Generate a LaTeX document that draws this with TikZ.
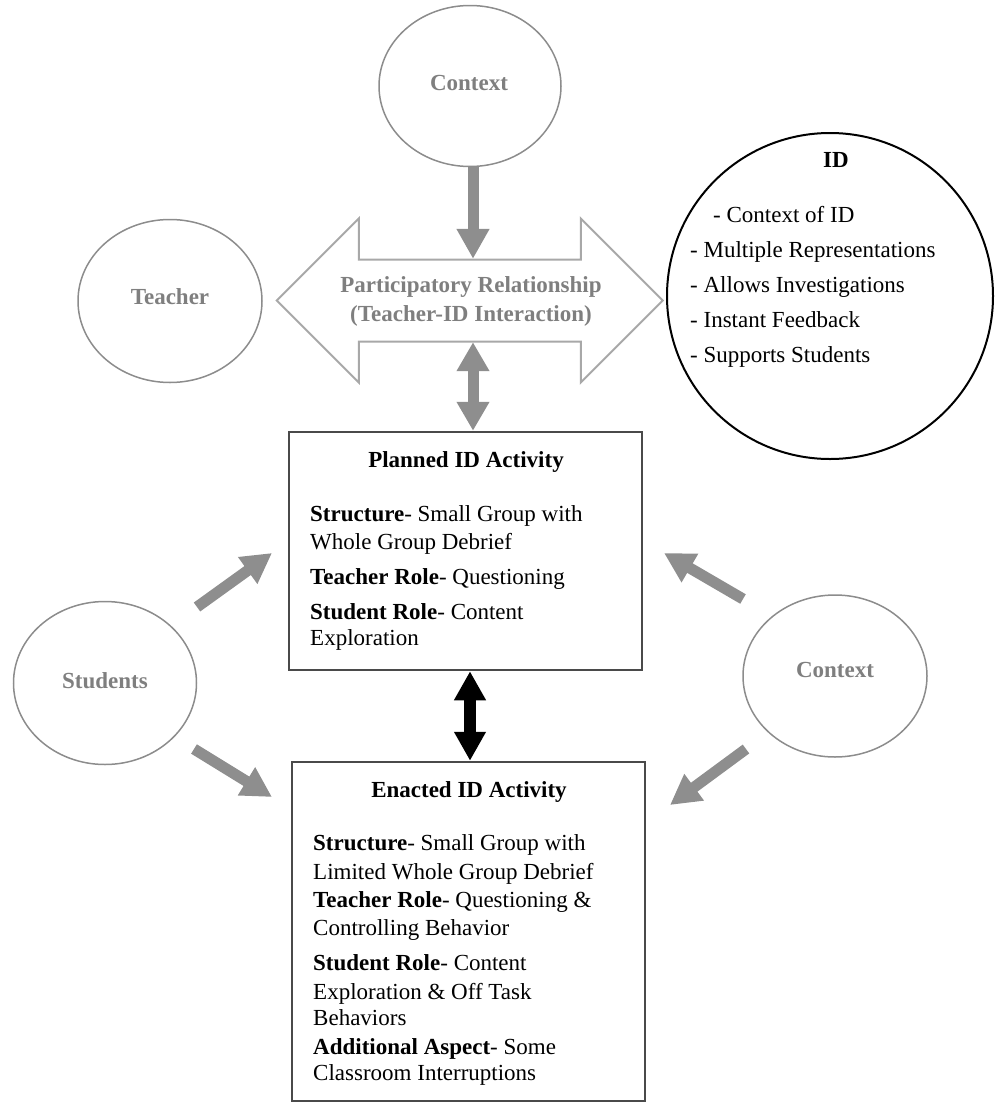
\documentclass[tikz,border=0pt]{standalone}
\usepackage{fontspec}
\setmainfont{Liberation Serif}
\usetikzlibrary{arrows.meta,shapes.geometric}

\definecolor{labelgray}{HTML}{7F7F7F}
\definecolor{rimgray}{HTML}{8C8C8C}
\definecolor{arrowgray}{HTML}{8E8E8E}
\definecolor{outlinegray}{HTML}{A8A8A8}
\definecolor{boxgray}{HTML}{4A4A4A}

\begin{document}
\begin{tikzpicture}[x=1pt,y=-1pt,
  every node/.style={font=\fontsize{23}{28}\selectfont},
  bubble/.style={draw=rimgray, line width=1.5pt, ellipse, inner sep=0pt},
  tag/.style={anchor=base, inner sep=0pt, text=labelgray, font=\fontsize{23}{28}\selectfont\bfseries},
  txt/.style={anchor=base west, inner sep=0pt},
  title/.style={anchor=base, inner sep=0pt, font=\fontsize{23}{28}\selectfont\bfseries},
  panel/.style={draw=boxgray, line width=2.5pt, inner sep=0pt},
  fatarrow/.style={draw=arrowgray, line width=11pt, -{Triangle[width=31pt,length=30pt]}},
  fatboth/.style={draw=arrowgray, line width=11pt, {Triangle[width=31pt,length=29pt]}-{Triangle[width=31pt,length=29pt]}},
  blackboth/.style={draw=black, line width=12pt, {Triangle[width=30pt,length=29pt]}-{Triangle[width=30pt,length=29pt]}}
]
\useasboundingbox (0,0) rectangle (994,1103);

% outer influences
\node[bubble, minimum width=182pt, minimum height=161pt] (ctxtop) at (470,86) {};
\node[tag] (ctxtoplbl) at (469,90) {Context};
\node[bubble, minimum width=184pt, minimum height=163pt] (teacher) at (170,301) {};
\node[tag] (teacherlbl) at (170,304) {Teacher};
\node[bubble, minimum width=183pt, minimum height=163pt] (students) at (105,683) {};
\node[tag] (studentslbl) at (105,688) {Students};
\node[bubble, minimum width=184pt, minimum height=162pt] (ctxright) at (835,676) {};
\node[tag] (ctxrightlbl) at (835,677) {Context};

% the interactive diagram and its features
\node[draw=black, line width=2pt, circle, minimum size=326pt, inner sep=0pt] (id) at (830,296) {};
\node[title] (idlbl) at (836,167) {ID};
\node[txt] (id1) at (713,222) {- Context of ID};
\node[txt] (id2) at (690,257) {- Multiple Representations};
\node[txt] (id3) at (690,292) {- Allows Investigations};
\node[txt] (id4) at (690,327) {- Instant Feedback};
\node[txt] (id5) at (690,362) {- Supports Students};

% participatory relationship: hollow double arrow
\node[minimum width=222pt, minimum height=83pt, inner sep=0pt] (rel) at (470,300.5) {};
\draw[draw=outlinegray, line width=2pt, line join=miter, fill=white]
  (rel.west) ++(-82,0) -- ++(82,-82) -- ++(0,41) -- ++(222,0) -- ++(0,-41)
  -- ++(82,82) -- ++(-82,82) -- ++(0,-41) -- ++(-222,0) -- ++(0,41) -- cycle;
\node[tag] (rel1) at (471,292) {Participatory Relationship};
\node[tag] (rel2) at (471,321) {(Teacher-ID Interaction)};

% activity panels
\node[panel, minimum width=353pt, minimum height=238pt] (planned) at (465.5,551) {};
\node[title] (plannedlbl) at (466,467) {Planned ID Activity};
\node[txt] (p1) at (310,521) {\textbf{Structure}- Small Group with};
\node[txt] (p2) at (310,549) {Whole Group Debrief};
\node[txt] (p3) at (310,584) {\textbf{Teacher Role}- Questioning};
\node[txt] (p4) at (310,619) {\textbf{Student Role}- Content};
\node[txt] (p5) at (310,645) {Exploration};

\node[panel, minimum width=353pt, minimum height=339pt] (enacted) at (468.5,931.5) {};
\node[title] (enactedlbl) at (469,797) {Enacted ID Activity};
\node[txt] (e1) at (313,850) {\textbf{Structure}- Small Group with};
\node[txt] (e2) at (313,879) {Limited Whole Group Debrief};
\node[txt] (e3) at (313,907) {\textbf{Teacher Role}- Questioning \&};
\node[txt] (e4) at (313,935) {Controlling Behavior};
\node[txt] (e5) at (313,970) {\textbf{Student Role}- Content};
\node[txt] (e6) at (313,999) {Exploration \& Off Task};
\node[txt] (e7) at (313,1025) {Behaviors};
\node[txt] (e8) at (313,1054) {\textbf{Additional Aspect}- Some};
\node[txt] (e9) at (313,1080) {Classroom Interruptions};

% connector end points
\coordinate (relTop) at ([xshift=3pt]rel.north);
\coordinate (relBot) at ([xshift=3pt]rel.south);
\coordinate (suA) at (197,607);
\coordinate (suB) at (272,553);
\coordinate (slA) at (194,749);
\coordinate (slB) at (272,797);
\coordinate (cuA) at (743,599);
\coordinate (cuB) at (664,553);
\coordinate (clA) at (746,749);
\coordinate (clB) at (670,805);
\coordinate (pe) at ([xshift=4.5pt]planned.south);

% connectors
\draw[fatarrow] ([xshift=3pt]ctxtop.south) -- (relTop);
\draw[fatboth] (relBot) -- (relBot |- planned.north);
\draw[blackboth] (pe) -- (pe |- enacted.north);
\draw[fatarrow] (suA) -- (suB);
\draw[fatarrow] (slA) -- (slB);
\draw[fatarrow] (cuA) -- (cuB);
\draw[fatarrow] (clA) -- (clB);
\end{tikzpicture}
\end{document}
